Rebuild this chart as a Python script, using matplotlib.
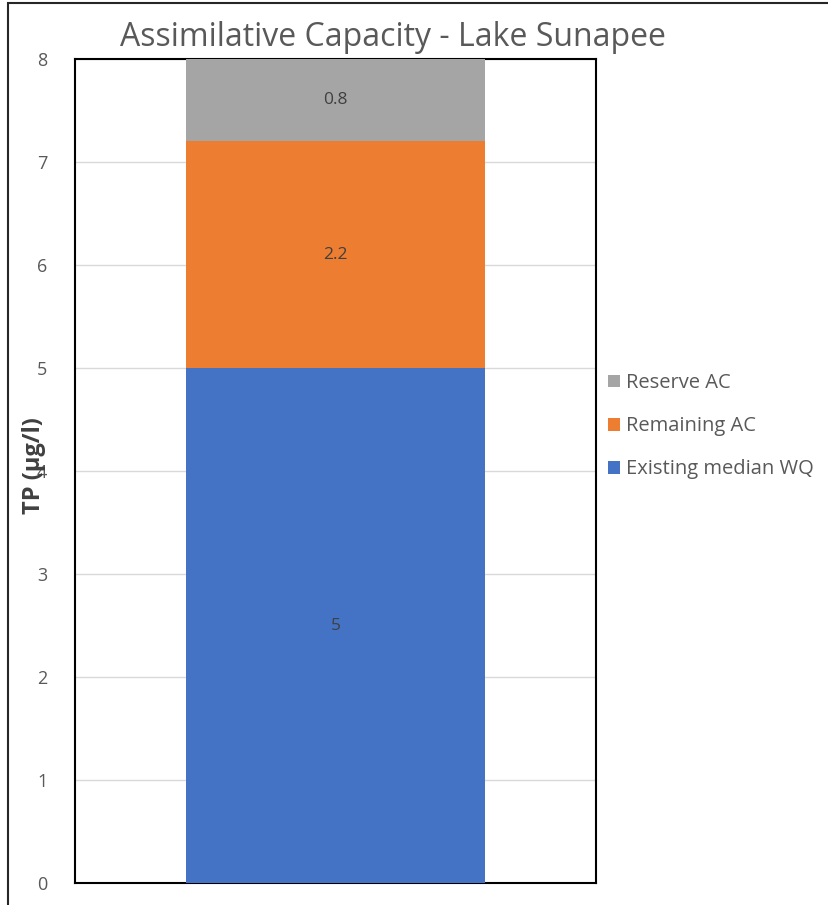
import matplotlib
matplotlib.use("Agg")
import matplotlib.pyplot as plt
from matplotlib.patches import Patch, Rectangle

categories = ["Lake Sunapee"]
series_names = ["Existing median WQ", "Remaining AC", "Reserve AC"]
series_values = [[5], [2.2], [0.8]]
series_labels = ["5", "2.2", "0.8"]
colors = ["#4472C4", "#ED7D31", "#A5A5A5"]
yticks = [0, 1, 2, 3, 4, 5, 6, 7, 8]
title = "Assimilative Capacity - Lake Sunapee"
ylabel = "TP (µg/l)"

plt.rcParams['font.family'] = ['Open Sans', 'DejaVu Sans']

fig = plt.figure(figsize=(8.29, 9.05), dpi=100)
ax = fig.add_axes([75/829, 1-883/905, (596-75)/829, (883-59)/905])

bottom = [0]
x = [0]
for name, vals, lab, c in zip(series_names, series_values, series_labels, colors):
    bars = ax.bar(x, vals, width=0.572, bottom=bottom, color=c, label=name, zorder=3)
    for b, v, bt in zip(bars, vals, bottom):
        ax.text(b.get_x() + b.get_width()/2, bt + v/2, lab, ha='center', va='center',
                fontsize=12.5, color='#404040', zorder=4)
    bottom = [bt + v for bt, v in zip(bottom, vals)]

ax.set_xlim(-0.5, 0.5)
ax.set_ylim(0, 8)
ax.set_yticks(yticks)
ax.set_yticklabels([str(t) for t in yticks])
ax.set_xticks([])
ax.tick_params(axis='y', length=0, pad=20, labelsize=13, labelcolor='#595959')
ax.grid(axis='y', color='#D9D9D9', linewidth=1, zorder=0)
for s in ax.spines.values():
    s.set_color('black')
    s.set_linewidth(1.5)

fig.text(393/829, 1-37/905, title, ha='center', va='center', fontsize=23, color='#595959')
fig.text(34/829, 1-466/905, ylabel, ha='center', va='center', rotation=90,
         fontsize=17, fontweight='bold', color='#404040')

handles = [Patch(facecolor=c, edgecolor='none') for c in colors[::-1]]
leg = fig.legend(handles, series_names[::-1], loc='upper left',
                 bbox_to_anchor=(600/829, 1-365/905), frameon=False,
                 fontsize=14.5, handlelength=0.6, handleheight=0.6, handletextpad=0.3,
                 labelspacing=1.15, borderaxespad=0)
for t in leg.get_texts():
    t.set_color('#595959')

# outer chart border (partially visible)
fig.add_artist(Rectangle((8/829, -0.05), 1.2, 1 - 3/905 + 0.05, transform=fig.transFigure,
                         fill=False, edgecolor='#262626', linewidth=1.5))

fig.savefig("out.png", dpi=100)
